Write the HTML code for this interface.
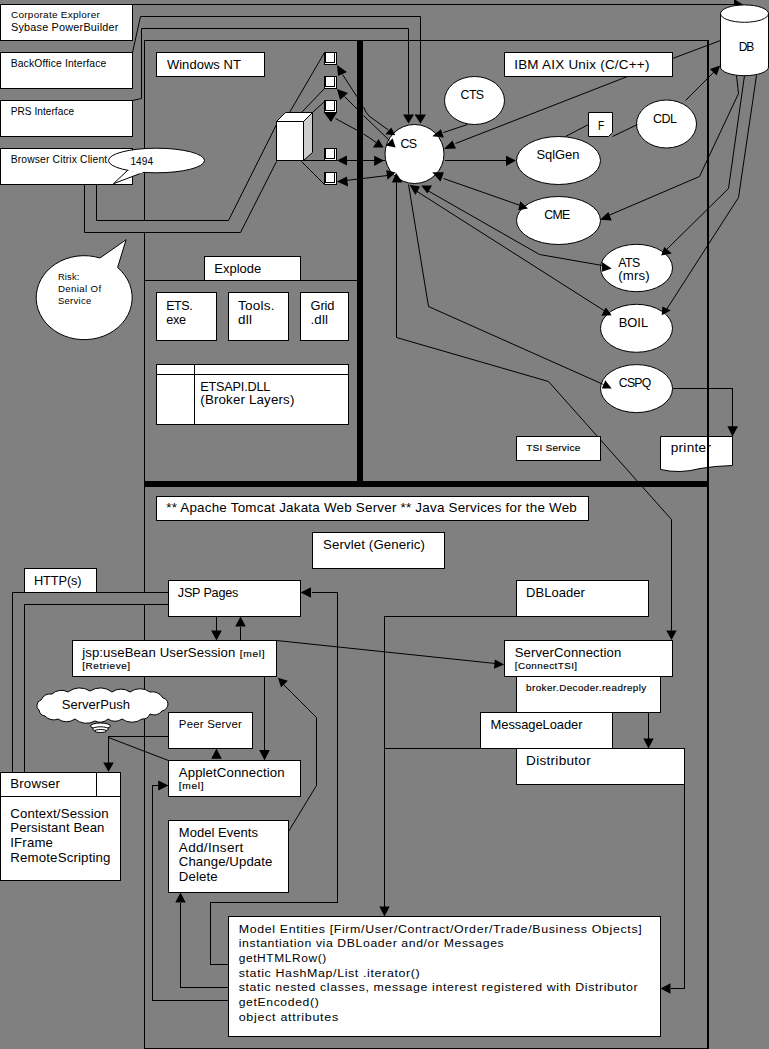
<!DOCTYPE html><html><head><meta charset="utf-8"><style>html,body{margin:0;padding:0;background:#808080;overflow:hidden}svg{display:block}text{font-family:"Liberation Sans",sans-serif;fill:#000}</style></head><body>
<svg width="769" height="1049" viewBox="0 0 769 1049">
<rect x="0" y="0" width="769" height="1049" fill="#808080" shape-rendering="crispEdges"/>
<rect x="144.5" y="40.5" width="563" height="1008" fill="none" stroke="#000" stroke-width="1" shape-rendering="crispEdges"/>
<rect x="708" y="40" width="1" height="1009" fill="#000" shape-rendering="crispEdges"/>
<rect x="357" y="40" width="6" height="447" fill="#000" shape-rendering="crispEdges"/>
<rect x="144" y="481" width="565" height="6" fill="#000" shape-rendering="crispEdges"/>
<polyline points="144.5,280.5 357.5,280.5" fill="none" stroke="#000" stroke-width="1" shape-rendering="crispEdges"/>
<rect x="0.5" y="4.5" width="132" height="36" fill="#fff" stroke="#000" stroke-width="1" shape-rendering="crispEdges"/>
<text x="0" y="0" transform="translate(11,17.8) scale(1.0535,1)" font-size="9.5" textLength="84.29" lengthAdjust="spacing">Corporate Explorer</text>
<text x="0" y="0" transform="translate(11,30.8) scale(1.0348,1)" font-size="10.5" textLength="103.79" lengthAdjust="spacing">Sybase PowerBuilder</text>
<rect x="0.5" y="52.5" width="132" height="36" fill="#fff" stroke="#000" stroke-width="1" shape-rendering="crispEdges"/>
<text x="0" y="0" transform="translate(10.7,67) scale(1.0318,1)" font-size="10" textLength="92.65" lengthAdjust="spacing">BackOffice Interface</text>
<rect x="0.5" y="100.5" width="132" height="36" fill="#fff" stroke="#000" stroke-width="1" shape-rendering="crispEdges"/>
<text x="0" y="0" transform="translate(10.7,115) scale(1.0091,1)" font-size="10" textLength="62.83" lengthAdjust="spacing">PRS Interface</text>
<rect x="0.5" y="148.5" width="132" height="36" fill="#fff" stroke="#000" stroke-width="1" shape-rendering="crispEdges"/>
<text x="0" y="0" transform="translate(10.7,163) scale(1.0328,1)" font-size="10" textLength="93.44" lengthAdjust="spacing">Browser Citrix Client</text>
<polyline points="132.5,4.5 734.5,4.5" fill="none" stroke="#000" stroke-width="1" shape-rendering="crispEdges"/>
<polygon points="734,-1 743,4.5 734,10" fill="#000"/>
<polyline points="132.5,52.5 140.5,16.5 420.5,16.5 420.5,114.5" fill="none" stroke="#000" stroke-width="1"/>
<polygon points="414.5,114.5 426,114.5 420.5,123.5" fill="#000"/>
<polyline points="132.5,100.5 141.5,98.5 141.5,28.5 408.5,28.5 408.5,114.5" fill="none" stroke="#000" stroke-width="1"/>
<polygon points="403,114.5 414,114.5 408.5,123.5" fill="#000"/>
<polyline points="96.5,184.5 96.5,220.5 228.5,220.5 276.5,124.5 289.5,112.5 324.5,52.5" fill="none" stroke="#000" stroke-width="1"/>
<polyline points="84.5,184.5 84.5,232.5 240.5,232.5 276.5,161.5" fill="none" stroke="#000" stroke-width="1"/>
<rect x="144" y="221" width="1" height="11" fill="#808080" shape-rendering="crispEdges"/>
<rect x="156.5" y="52.5" width="108" height="24" fill="#fff" stroke="#000" stroke-width="1" shape-rendering="crispEdges"/>
<text x="0" y="0" transform="translate(166.9,69.2) scale(1.0021,1)" font-size="13" textLength="73.84" lengthAdjust="spacing">Windows NT</text>
<polygon points="276.5,121.5 285.5,112.5 312.5,112.5 303.5,121.5" fill="#fff" stroke="#000"/>
<polygon points="303.5,121.5 312.5,112.5 312.5,152.5 303.5,160.5" fill="#ccc" stroke="#000"/>
<rect x="276.5" y="121.5" width="27" height="39" fill="#fff" stroke="#000" stroke-width="1" shape-rendering="crispEdges"/>
<polyline points="301.5,112.5 324.5,88.5" fill="none" stroke="#000" stroke-width="1"/>
<polyline points="312.5,112.5 324.5,101.5" fill="none" stroke="#000" stroke-width="1"/>
<polyline points="303.5,160.5 324.5,160.5" fill="none" stroke="#000" stroke-width="1" shape-rendering="crispEdges"/>
<polyline points="301.5,161.5 324.5,184.5" fill="none" stroke="#000" stroke-width="1"/>
<rect x="324" y="52" width="13" height="13" fill="#000" shape-rendering="crispEdges"/>
<rect x="326" y="53" width="8" height="9" fill="#fff" shape-rendering="crispEdges"/>
<rect x="335" y="53" width="1" height="11" fill="#fff" shape-rendering="crispEdges"/>
<rect x="325" y="63" width="11" height="1" fill="#fff" shape-rendering="crispEdges"/>
<rect x="324" y="76" width="13" height="13" fill="#000" shape-rendering="crispEdges"/>
<rect x="326" y="77" width="8" height="9" fill="#fff" shape-rendering="crispEdges"/>
<rect x="335" y="77" width="1" height="11" fill="#fff" shape-rendering="crispEdges"/>
<rect x="325" y="87" width="11" height="1" fill="#fff" shape-rendering="crispEdges"/>
<rect x="324" y="100" width="13" height="13" fill="#000" shape-rendering="crispEdges"/>
<rect x="326" y="101" width="8" height="9" fill="#fff" shape-rendering="crispEdges"/>
<rect x="335" y="101" width="1" height="11" fill="#fff" shape-rendering="crispEdges"/>
<rect x="325" y="111" width="11" height="1" fill="#fff" shape-rendering="crispEdges"/>
<rect x="324" y="148" width="13" height="13" fill="#000" shape-rendering="crispEdges"/>
<rect x="326" y="149" width="8" height="9" fill="#fff" shape-rendering="crispEdges"/>
<rect x="335" y="149" width="1" height="11" fill="#fff" shape-rendering="crispEdges"/>
<rect x="325" y="159" width="11" height="1" fill="#fff" shape-rendering="crispEdges"/>
<rect x="324" y="172" width="13" height="13" fill="#000" shape-rendering="crispEdges"/>
<rect x="326" y="173" width="8" height="9" fill="#fff" shape-rendering="crispEdges"/>
<rect x="335" y="173" width="1" height="11" fill="#fff" shape-rendering="crispEdges"/>
<rect x="325" y="183" width="11" height="1" fill="#fff" shape-rendering="crispEdges"/>
<ellipse cx="414.5" cy="154" rx="29.5" ry="29.5" fill="#fff" stroke="#000" stroke-width="1"/>
<text x="0" y="0" transform="translate(400.5,148.2) scale(0.9567,1)" font-size="13" textLength="17.25" lengthAdjust="spacing">CS</text>
<ellipse cx="474.5" cy="100.5" rx="30" ry="24" fill="#fff" stroke="#000" stroke-width="1"/>
<text x="0" y="0" transform="translate(460.6,98.6) scale(0.9519,1)" font-size="13" textLength="24.69" lengthAdjust="spacing">CTS</text>
<rect x="504.5" y="52.5" width="168" height="24" fill="#fff" stroke="#000" stroke-width="1" shape-rendering="crispEdges"/>
<text x="0" y="0" transform="translate(514.2,68.6) scale(1.0347,1)" font-size="13" textLength="130.66" lengthAdjust="spacing">IBM AIX Unix (C/C++)</text>
<ellipse cx="558.5" cy="160.5" rx="42" ry="24" fill="#fff" stroke="#000" stroke-width="1"/>
<text x="0" y="0" transform="translate(536.4,159) scale(0.9968,1)" font-size="13" textLength="43.24" lengthAdjust="spacing">SqlGen</text>
<ellipse cx="666.5" cy="124" rx="30" ry="24" fill="#fff" stroke="#000" stroke-width="1"/>
<text x="0" y="0" transform="translate(652.9,123.2) scale(0.9613,1)" font-size="13" textLength="24.97" lengthAdjust="spacing">CDL</text>
<ellipse cx="558.5" cy="220.5" rx="42" ry="24" fill="#fff" stroke="#000" stroke-width="1"/>
<text x="0" y="0" transform="translate(544.2,218.8) scale(0.9500,1)" font-size="13" textLength="27.37" lengthAdjust="spacing">CME</text>
<ellipse cx="636.5" cy="268" rx="36" ry="23.7" fill="#fff" stroke="#000" stroke-width="1"/>
<text x="0" y="0" transform="translate(618.2,266.8) scale(0.9545,1)" font-size="13" textLength="23.15" lengthAdjust="spacing">ATS</text>
<text x="0" y="0" transform="translate(618.2,280.2) scale(1.0196,1)" font-size="13" textLength="30.89" lengthAdjust="spacing">(mrs)</text>
<ellipse cx="636.5" cy="328.3" rx="36" ry="24" fill="#fff" stroke="#000" stroke-width="1"/>
<text x="0" y="0" transform="translate(618.8,326.9) scale(0.9945,1)" font-size="13" textLength="29.46" lengthAdjust="spacing">BOIL</text>
<ellipse cx="636.5" cy="388.6" rx="36" ry="24" fill="#fff" stroke="#000" stroke-width="1"/>
<text x="0" y="0" transform="translate(618.8,386.7) scale(0.9411,1)" font-size="13" textLength="34.54" lengthAdjust="spacing">CSPQ</text>
<polyline points="342.5,74.5 357.5,97.5" fill="none" stroke="#000" stroke-width="1"/>
<path d="M 363.5,107 Q 366,113 369,116 L 388.5,130" fill="none" stroke="#000"/>
<polygon points="337,65 347,72 338,76" fill="#000"/>
<polygon points="385.3,134.3 391.3,127.5 395.2,135.2" fill="#000"/>
<polyline points="344.5,96.5 357.5,109.5" fill="none" stroke="#000" stroke-width="1"/>
<polyline points="363.5,115.5 389.5,140.5" fill="none" stroke="#000" stroke-width="1"/>
<polygon points="337,89 348,93 340,100" fill="#000"/>
<polygon points="385.8,145.5 392.6,138.2 395.6,147.6" fill="#000"/>
<polyline points="335.5,118.5 357.5,130.5" fill="none" stroke="#000" stroke-width="1"/>
<path d="M 363.5,134 Q 369,137 376,142.5" fill="none" stroke="#000"/>
<polygon points="324,112.5 337,112.5 331,122" fill="#000"/>
<polygon points="372.9,147.6 378.5,139 383.6,147.6" fill="#000"/>
<polyline points="337.5,160.5 384.5,160.5" fill="none" stroke="#000" stroke-width="1" shape-rendering="crispEdges"/>
<polygon points="337,160.5 347,155.5 347,165.5" fill="#000"/>
<polygon points="384,160.5 374.2,155.8 374.2,166.1" fill="#000"/>
<polyline points="337.5,181.5 387.5,175.5" fill="none" stroke="#000" stroke-width="1"/>
<polygon points="337,181.5 347,176.5 348,186.5" fill="#000"/>
<polygon points="386.2,170 395.6,172.5 387.5,179.8" fill="#000"/>
<ellipse cx="156.5" cy="160.5" rx="48" ry="12.3" fill="#fff" stroke="#000"/>
<polygon points="128,170 113.5,183.7 142,172.8" fill="#fff" stroke="#000"/>
<polygon points="127,168 129,171 141,173.5 144,171" fill="#fff"/>
<text x="0" y="0" transform="translate(130.4,165) scale(1.0079,1)" font-size="10" textLength="22.42" lengthAdjust="spacing">1494</text>
<path d="M 100,258 A 48,42 0 1 0 117.6,267.5 L 126.1,239.7 Z" fill="#fff" stroke="#000"/>
<text x="0" y="0" transform="translate(57.9,280.4) scale(1.0375,1)" font-size="9" textLength="20.72" lengthAdjust="spacing">Risk:</text>
<text x="0" y="0" transform="translate(57.9,291.8) scale(1.0760,1)" font-size="9" textLength="40.15" lengthAdjust="spacing">Denial Of</text>
<text x="0" y="0" transform="translate(57.9,303.6) scale(1.0550,1)" font-size="9" textLength="31.56" lengthAdjust="spacing">Service</text>
<path d="M 588.5,112.5 L 612.5,112.5 L 612.5,132.5 L 608.5,136.5 L 588.5,136.5 Z" fill="#fff" stroke="#000"/>
<text x="0" y="0" transform="translate(597.9,129.9) scale(0.8141,1)" font-size="12.5" textLength="5.9" lengthAdjust="spacing">F</text>
<path d="M 720.5,13.6 L 720.5,67 A 24,8.7 0 0 0 768.5,67 L 768.5,13.6 A 24,8.7 0 0 0 720.5,13.6 Z" fill="#fff" stroke="#000"/>
<path d="M 720.5,13.6 A 24,8.7 0 0 0 768.5,13.6" fill="none" stroke="#000"/>
<text x="0" y="0" transform="translate(738.8,51) scale(0.9291,1)" font-size="13" textLength="16.68" lengthAdjust="spacing">DB</text>
<polyline points="443.5,132.5 467.5,124.5" fill="none" stroke="#000" stroke-width="1"/>
<polygon points="432.3,136.2 440.9,129.3 443.9,137.5" fill="#000"/>
<polyline points="455.5,143.5 627.5,76.5" fill="none" stroke="#000" stroke-width="1"/>
<polygon points="443.9,149 452.5,140.5 455.9,148.6" fill="#000"/>
<polyline points="444.5,160.5 506.5,160.5" fill="none" stroke="#000" stroke-width="1" shape-rendering="crispEdges"/>
<polygon points="516,160.5 506,155.7 506,166" fill="#000"/>
<polyline points="565.5,136.5 588.5,124.5" fill="none" stroke="#000" stroke-width="1"/>
<polyline points="612.5,136.5 637.5,124.5" fill="none" stroke="#000" stroke-width="1"/>
<polyline points="685.5,100.5 714.5,71.5" fill="none" stroke="#000" stroke-width="1"/>
<polygon points="720.2,65.5 709.9,69 716.6,75.4" fill="#000"/>
<polyline points="672.5,58.5 720.5,40.5" fill="none" stroke="#000" stroke-width="1"/>
<polyline points="443.5,178.5 520.5,205.5" fill="none" stroke="#000" stroke-width="1"/>
<polygon points="432.3,172.2 443.9,172.2 440.5,181.7" fill="#000"/>
<polygon points="520.3,201.2 528,208.5 518.2,210.2" fill="#000"/>
<polyline points="736.5,75.5 738.5,93.5 699.5,176.5 608.5,215.5" fill="none" stroke="#000" stroke-width="1"/>
<polygon points="600,219.7 608.4,211.9 611.7,220.4" fill="#000"/>
<polyline points="744.5,75.5 728.5,188.5 665.5,250.5" fill="none" stroke="#000" stroke-width="1"/>
<polygon points="661.1,255.5 664.3,247 671.9,253.5" fill="#000"/>
<polyline points="756.5,75.5 738.5,197.5 666.5,309.5" fill="none" stroke="#000" stroke-width="1"/>
<polygon points="662.4,306.4 670.8,310.6 661.7,315.2" fill="#000"/>
<polyline points="396.5,182.5 396.5,337.5 548.5,381.5 671.5,519.5 671.5,630.5" fill="none" stroke="#000" stroke-width="1"/>
<polygon points="671.5,640 666.3,630.4 676.7,630.4" fill="#000"/>
<polygon points="396,172.7 392,182.5 402.5,182.5" fill="#000"/>
<polyline points="408.5,184.5 428.5,306.5 603.5,384.5" fill="none" stroke="#000" stroke-width="1"/>
<polygon points="605.2,380.2 611.7,388.6 601.9,388.6" fill="#000"/>
<polyline points="415.5,190.5 605.5,311.5" fill="none" stroke="#000" stroke-width="1"/>
<polygon points="409.5,184.8 420,186.4 415.4,195" fill="#000"/>
<polygon points="605.8,307.4 611.7,315.2 601.3,315.8" fill="#000"/>
<polyline points="427.5,190.5 539.5,254.5 602.5,265.5" fill="none" stroke="#000" stroke-width="1"/>
<polygon points="421.2,185.6 432.1,185.6 427.4,193.4" fill="#000"/>
<polygon points="601.9,262 611.7,268.5 601.9,271.7" fill="#000"/>
<rect x="204.5" y="256.5" width="96" height="24" fill="#fff" stroke="#000" stroke-width="1" shape-rendering="crispEdges"/>
<text x="0" y="0" transform="translate(214.3,273) scale(1.0000,1)" font-size="13" textLength="47" lengthAdjust="spacing">Explode</text>
<rect x="156.5" y="292.5" width="60" height="48" fill="#fff" stroke="#000" stroke-width="1" shape-rendering="crispEdges"/>
<text x="0" y="0" transform="translate(166.2,309.6) scale(0.9586,1)" font-size="13" textLength="27.64" lengthAdjust="spacing">ETS.</text>
<text x="0" y="0" transform="translate(166.2,323.6) scale(0.9769,1)" font-size="13" textLength="20.47" lengthAdjust="spacing">exe</text>
<rect x="228.5" y="292.5" width="60" height="48" fill="#fff" stroke="#000" stroke-width="1" shape-rendering="crispEdges"/>
<text x="0" y="0" transform="translate(237.9,309.6) scale(1.0387,1)" font-size="13" textLength="35.24" lengthAdjust="spacing">Tools.</text>
<text x="0" y="0" transform="translate(237.9,323.6) scale(1.0378,1)" font-size="13" textLength="13.49" lengthAdjust="spacing">dll</text>
<rect x="300.5" y="292.5" width="48" height="48" fill="#fff" stroke="#000" stroke-width="1" shape-rendering="crispEdges"/>
<text x="0" y="0" transform="translate(310.5,309.6) scale(0.9885,1)" font-size="13" textLength="24.28" lengthAdjust="spacing">Grid</text>
<text x="0" y="0" transform="translate(310.5,323.6) scale(1.0263,1)" font-size="13" textLength="17.05" lengthAdjust="spacing">.dll</text>
<rect x="156.5" y="364.5" width="192" height="60" fill="#fff" stroke="#000" stroke-width="1" shape-rendering="crispEdges"/>
<polyline points="156.5,374.5 348.5,374.5" fill="none" stroke="#000" stroke-width="1" shape-rendering="crispEdges"/>
<polyline points="194.5,364.5 194.5,424.5" fill="none" stroke="#000" stroke-width="1" shape-rendering="crispEdges"/>
<text x="0" y="0" transform="translate(200.3,390.7) scale(0.9756,1)" font-size="13" textLength="71.86" lengthAdjust="spacing">ETSAPI.DLL</text>
<text x="0" y="0" transform="translate(200.3,404.2) scale(1.0251,1)" font-size="13" textLength="91.79" lengthAdjust="spacing">(Broker Layers)</text>
<rect x="516.5" y="436.5" width="84" height="24" fill="#fff" stroke="#000" stroke-width="1" shape-rendering="crispEdges"/>
<text x="0" y="0" transform="translate(526.3,450.8) scale(1.0500,1)" font-size="9.5" stroke="#000" stroke-width="0.15" textLength="51.43" lengthAdjust="spacing">TSI Service</text>
<path d="M 660.5,436.5 L 732.5,436.5 L 732.5,465.5 Q 715,466 700,468.5 Q 680,474 660.5,469.5 Z" fill="#fff" stroke="#000"/>
<text x="0" y="0" transform="translate(670.7,452.4) scale(1.0467,1)" font-size="13" textLength="38.5" lengthAdjust="spacing">printer</text>
<polyline points="672.5,388.5 732.5,388.5 732.5,426.5" fill="none" stroke="#000" stroke-width="1" shape-rendering="crispEdges"/>
<polygon points="732.5,436.5 727.4,426.2 738,426.2" fill="#000"/>
<rect x="707" y="436" width="2" height="39" fill="#000" shape-rendering="crispEdges"/>
<rect x="156.5" y="496.5" width="432" height="24" fill="#fff" stroke="#000" stroke-width="1" shape-rendering="crispEdges"/>
<text x="0" y="0" transform="translate(166.2,512.4) scale(1.0330,1)" font-size="13" textLength="397.5" lengthAdjust="spacing">** Apache Tomcat Jakata Web Server ** Java Services for the Web</text>
<rect x="312.5" y="532.5" width="132" height="36" fill="#fff" stroke="#000" stroke-width="1" shape-rendering="crispEdges"/>
<text x="0" y="0" transform="translate(323,549) scale(1.0190,1)" font-size="13" textLength="100.1" lengthAdjust="spacing">Servlet (Generic)</text>
<rect x="24.5" y="568.5" width="72" height="24" fill="#fff" stroke="#000" stroke-width="1" shape-rendering="crispEdges"/>
<text x="0" y="0" transform="translate(34,584.9) scale(0.9848,1)" font-size="13" textLength="48.34" lengthAdjust="spacing">HTTP(s)</text>
<rect x="168.5" y="580.5" width="132" height="36" fill="#fff" stroke="#000" stroke-width="1" shape-rendering="crispEdges"/>
<text x="0" y="0" transform="translate(177.8,596.6) scale(0.9727,1)" font-size="13" textLength="62.3" lengthAdjust="spacing">JSP Pages</text>
<rect x="72.5" y="640.5" width="204" height="36" fill="#fff" stroke="#000" stroke-width="1" shape-rendering="crispEdges"/>
<text x="0" y="0" transform="translate(82.2,656.7) scale(1.0144,1)" font-size="13" textLength="151.02" lengthAdjust="spacing">jsp:useBean UserSession</text>
<text x="0" y="0" transform="translate(239.7,657.3) scale(1.1385,1)" font-size="9" stroke="#000" stroke-width="0.15" textLength="21.87" lengthAdjust="spacing">[mel]</text>
<text x="0" y="0" transform="translate(82.2,669.2) scale(1.1234,1)" font-size="9" stroke="#000" stroke-width="0.15" textLength="42.73" lengthAdjust="spacing">[Retrieve]</text>
<rect x="516.5" y="580.5" width="132" height="36" fill="#fff" stroke="#000" stroke-width="1" shape-rendering="crispEdges"/>
<text x="0" y="0" transform="translate(526.1,597.3) scale(1.0012,1)" font-size="13" textLength="58.63" lengthAdjust="spacing">DBLoader</text>
<rect x="504.5" y="640.5" width="168" height="36" fill="#fff" stroke="#000" stroke-width="1" shape-rendering="crispEdges"/>
<text x="0" y="0" transform="translate(514.7,657) scale(1.0116,1)" font-size="13" textLength="105.28" lengthAdjust="spacing">ServerConnection</text>
<text x="0" y="0" transform="translate(514.7,669.2) scale(1.0943,1)" font-size="9" stroke="#000" stroke-width="0.15" textLength="57.02" lengthAdjust="spacing">[ConnectTSI]</text>
<rect x="516.5" y="676.5" width="144" height="36" fill="#fff" stroke="#000" stroke-width="1" shape-rendering="crispEdges"/>
<text x="0" y="0" transform="translate(526.1,690.6) scale(1.0950,1)" font-size="9" stroke="#000" stroke-width="0.15" textLength="109.77" lengthAdjust="spacing">broker.Decoder.readreply</text>
<rect x="480.5" y="712.5" width="132" height="36" fill="#fff" stroke="#000" stroke-width="1" shape-rendering="crispEdges"/>
<text x="0" y="0" transform="translate(490.6,729.3) scale(0.9927,1)" font-size="13" textLength="92.58" lengthAdjust="spacing">MessageLoader</text>
<rect x="516.5" y="748.5" width="168" height="36" fill="#fff" stroke="#000" stroke-width="1" shape-rendering="crispEdges"/>
<text x="0" y="0" transform="translate(526.1,764.8) scale(1.0451,1)" font-size="13" textLength="61.81" lengthAdjust="spacing">Distributor</text>
<rect x="168.5" y="712.5" width="84" height="36" fill="#fff" stroke="#000" stroke-width="1" shape-rendering="crispEdges"/>
<text x="0" y="0" transform="translate(178.8,727.8) scale(1.0373,1)" font-size="11" textLength="60.83" lengthAdjust="spacing">Peer Server</text>
<rect x="168.5" y="760.5" width="132" height="36" fill="#fff" stroke="#000" stroke-width="1" shape-rendering="crispEdges"/>
<text x="0" y="0" transform="translate(178.8,776.9) scale(1.0147,1)" font-size="13" textLength="104.16" lengthAdjust="spacing">AppletConnection</text>
<text x="0" y="0" transform="translate(178.8,789.4) scale(1.1359,1)" font-size="9" stroke="#000" stroke-width="0.15" textLength="21.83" lengthAdjust="spacing">[mel]</text>
<rect x="0.5" y="772.5" width="120" height="108" fill="#fff" stroke="#000" stroke-width="1" shape-rendering="crispEdges"/>
<polyline points="0.5,796.5 120.5,796.5" fill="none" stroke="#000" stroke-width="1" shape-rendering="crispEdges"/>
<polyline points="96.5,772.5 96.5,796.5" fill="none" stroke="#000" stroke-width="1" shape-rendering="crispEdges"/>
<text x="0" y="0" transform="translate(10.3,788) scale(1.0201,1)" font-size="13" textLength="48.62" lengthAdjust="spacing">Browser</text>
<text x="0" y="0" transform="translate(10.3,817.5) scale(1.0191,1)" font-size="13" textLength="96.46" lengthAdjust="spacing">Context/Session</text>
<text x="0" y="0" transform="translate(10.3,832.3) scale(1.0125,1)" font-size="13" textLength="92.93" lengthAdjust="spacing">Persistant Bean</text>
<text x="0" y="0" transform="translate(10.3,847.1) scale(1.0173,1)" font-size="13" textLength="41.87" lengthAdjust="spacing">IFrame</text>
<text x="0" y="0" transform="translate(10.3,861.9) scale(1.0212,1)" font-size="13" textLength="98.12" lengthAdjust="spacing">RemoteScripting</text>
<rect x="168.5" y="820.5" width="120" height="72" fill="#fff" stroke="#000" stroke-width="1" shape-rendering="crispEdges"/>
<text x="0" y="0" transform="translate(178.8,837.1) scale(1.0020,1)" font-size="13" textLength="78.94" lengthAdjust="spacing">Model Events</text>
<text x="0" y="0" transform="translate(178.8,851.6) scale(1.0450,1)" font-size="13" textLength="61.82" lengthAdjust="spacing">Add/Insert</text>
<text x="0" y="0" transform="translate(178.8,866.1) scale(1.0137,1)" font-size="13" textLength="92.34" lengthAdjust="spacing">Change/Update</text>
<text x="0" y="0" transform="translate(178.8,880.6) scale(1.0174,1)" font-size="13" textLength="38.24" lengthAdjust="spacing">Delete</text>
<rect x="228.5" y="916.5" width="432" height="120" fill="#fff" stroke="#000" stroke-width="1" shape-rendering="crispEdges"/>
<text x="0" y="0" transform="translate(238.7,932.6) scale(1.1260,1)" font-size="11" textLength="357.92" lengthAdjust="spacing">Model Entities [Firm/User/Contract/Order/Trade/Business Objects]</text>
<text x="0" y="0" transform="translate(238.7,947.3) scale(1.1134,1)" font-size="11" textLength="238" lengthAdjust="spacing">instantiation via DBLoader and/or Messages</text>
<text x="0" y="0" transform="translate(238.7,962) scale(1.0868,1)" font-size="11" textLength="80.51" lengthAdjust="spacing">getHTMLRow()</text>
<text x="0" y="0" transform="translate(238.7,976.7) scale(1.1297,1)" font-size="11" textLength="160.22" lengthAdjust="spacing">static HashMap/List .iterator()</text>
<text x="0" y="0" transform="translate(238.7,991.4) scale(1.1248,1)" font-size="11" textLength="354.74" lengthAdjust="spacing">static nested classes, message interest registered with Distributor</text>
<text x="0" y="0" transform="translate(238.7,1006.1) scale(1.1052,1)" font-size="11" textLength="72.39" lengthAdjust="spacing">getEncoded()</text>
<text x="0" y="0" transform="translate(238.7,1020.8) scale(1.1401,1)" font-size="11" textLength="87.27" lengthAdjust="spacing">object attributes</text>
<path d="M 37,705 A 5.4,5.4 0 0 1 41,700 A 10.7,10.7 0 0 1 52,694 A 13.7,13.7 0 0 1 68,692 A 18.7,18.7 0 0 1 90,691 A 18.7,18.7 0 0 1 112,692 A 15.3,15.3 0 0 1 130,692 A 17.0,17.0 0 0 1 150,692 A 12.2,12.2 0 0 1 163,698 A 6.6,6.6 0 0 1 168,704 A 7.8,7.8 0 0 1 162,711 A 10.5,10.5 0 0 1 150,714 A 8.0,8.0 0 0 1 142,719 A 17.0,17.0 0 0 1 122,719 A 11.9,11.9 0 0 1 108,719 A 11.2,11.2 0 0 1 95,721 A 17.1,17.1 0 0 1 75,719 A 14.4,14.4 0 0 1 58,719 A 11.3,11.3 0 0 1 45,716 A 7.2,7.2 0 0 1 39,710 A 4.6,4.6 0 0 1 37,705 Z" fill="#fff" stroke="#000"/>
<ellipse cx="100.5" cy="726" rx="10" ry="3" fill="#fff" stroke="#000"/>
<ellipse cx="100.5" cy="729" rx="8" ry="2.2" fill="#fff" stroke="#000"/>
<ellipse cx="100.5" cy="731" rx="6" ry="1.5" fill="#fff" stroke="#000"/>
<text x="0" y="0" transform="translate(61.7,708.7) scale(1.0027,1)" font-size="13" textLength="68.12" lengthAdjust="spacing">ServerPush</text>
<polyline points="168.5,592.5 12.5,592.5 12.5,772.5" fill="none" stroke="#000" stroke-width="1" shape-rendering="crispEdges"/>
<polyline points="168.5,604.5 24.5,604.5 24.5,772.5" fill="none" stroke="#000" stroke-width="1" shape-rendering="crispEdges"/>
<rect x="144" y="593" width="1" height="11" fill="#808080" shape-rendering="crispEdges"/>
<polyline points="216.5,616.5 216.5,630.5" fill="none" stroke="#000" stroke-width="1" shape-rendering="crispEdges"/>
<polygon points="216.5,640.5 211.2,630.5 221.8,630.5" fill="#000"/>
<polyline points="240.5,640.5 240.5,626.5" fill="none" stroke="#000" stroke-width="1" shape-rendering="crispEdges"/>
<polygon points="240.5,616.5 235.2,626.5 245.8,626.5" fill="#000"/>
<polyline points="276.5,640.5 495.5,663.5" fill="none" stroke="#000" stroke-width="1"/>
<polygon points="504.2,664.5 494.8,659.5 494,668.7" fill="#000"/>
<polyline points="311.5,592.5 337.5,592.5 337.5,902.5 210.5,902.5 210.5,964.5 228.5,964.5" fill="none" stroke="#000" stroke-width="1" shape-rendering="crispEdges"/>
<polygon points="300.5,592.5 311,587.3 311,597.7" fill="#000"/>
<polyline points="264.5,676.5 264.5,750.5" fill="none" stroke="#000" stroke-width="1" shape-rendering="crispEdges"/>
<polygon points="264.5,760.5 259.2,750 269.8,750" fill="#000"/>
<polygon points="216.5,748.5 211.2,758.7 221.8,758.7" fill="#000"/>
<polyline points="168.5,736.5 108.5,736.5 108.5,762.5" fill="none" stroke="#000" stroke-width="1" shape-rendering="crispEdges"/>
<polygon points="108.5,771.8 103.2,762.4 113.8,762.4" fill="#000"/>
<polyline points="108.5,737.5 168.5,760.5" fill="none" stroke="#000" stroke-width="1"/>
<polyline points="228.5,1000.5 152.5,1000.5 152.5,785.5 158.5,785.5" fill="none" stroke="#000" stroke-width="1" shape-rendering="crispEdges"/>
<polygon points="168.5,785.5 158.2,780.5 158.2,790.5" fill="#000"/>
<polyline points="288.5,831.5 316.5,785.5 316.5,717.5 283.5,684.5" fill="none" stroke="#000" stroke-width="1"/>
<polygon points="278,677.8 281,687.6 287.8,680.7" fill="#000"/>
<polyline points="228.5,987.5 180.5,987.5 180.5,902.5" fill="none" stroke="#000" stroke-width="1" shape-rendering="crispEdges"/>
<polygon points="180.5,892.5 175.3,902.5 185.7,902.5" fill="#000"/>
<polyline points="516.5,616.5 384.5,616.5 384.5,906.5" fill="none" stroke="#000" stroke-width="1" shape-rendering="crispEdges"/>
<polygon points="384.5,916.5 379.3,906.5 389.7,906.5" fill="#000"/>
<polyline points="480.5,748.5 384.5,748.5" fill="none" stroke="#000" stroke-width="1" shape-rendering="crispEdges"/>
<polyline points="648.5,712.5 648.5,738.5" fill="none" stroke="#000" stroke-width="1" shape-rendering="crispEdges"/>
<polygon points="648.5,748.5 643.3,738.5 653.7,738.5" fill="#000"/>
<polyline points="684.5,784.5 684.5,988.5 670.5,988.5" fill="none" stroke="#000" stroke-width="1" shape-rendering="crispEdges"/>
<polygon points="660.5,988.5 670.5,983.3 670.5,993.7" fill="#000"/>
</svg></body></html>
